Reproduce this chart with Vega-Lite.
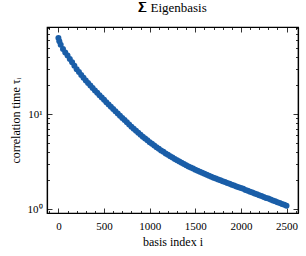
{
  "$schema": "https://vega.github.io/schema/vega-lite/v6.json",
  "width": 251,
  "height": 186,
  "autosize": "none",
  "padding": {"left": 47, "top": 27, "right": 8, "bottom": 43},
  "background": "white",
  "title": {"text": "𝚺 Eigenbasis", "font": "Liberation Serif", "fontSize": 13, "fontWeight": "normal", "color": "black", "offset": 7},
  "config": {
    "view": {"stroke": "black", "strokeWidth": 1.2},
    "axis": {"labelFont": "Liberation Serif", "titleFont": "Liberation Serif", "labelColor": "black", "titleColor": "black", "domainColor": "black", "tickColor": "black", "grid": false, "titleFontWeight": "normal", "labelFontSize": 11, "titleFontSize": 12, "domainWidth": 1.2, "tickWidth": 0.8}
  },
  "data": {"values": [
    {"i": 0, "tau": 63.1}, {"i": 10, "tau": 58.2}, {"i": 25, "tau": 53.7}, {"i": 50, "tau": 48.4}, {"i": 75, "tau": 44.5},
    {"i": 100, "tau": 41.2}, {"i": 125, "tau": 37.9}, {"i": 150, "tau": 35.0}, {"i": 175, "tau": 32.2},
    {"i": 200, "tau": 29.6}, {"i": 225, "tau": 27.7}, {"i": 250, "tau": 25.8}, {"i": 275, "tau": 24.1},
    {"i": 300, "tau": 22.5}, {"i": 325, "tau": 21.2}, {"i": 350, "tau": 19.9}, {"i": 375, "tau": 18.8},
    {"i": 400, "tau": 17.7}, {"i": 425, "tau": 16.7}, {"i": 450, "tau": 15.8}, {"i": 475, "tau": 14.9},
    {"i": 500, "tau": 14.1}, {"i": 525, "tau": 13.3}, {"i": 550, "tau": 12.6}, {"i": 575, "tau": 11.9},
    {"i": 600, "tau": 11.3}, {"i": 625, "tau": 10.7}, {"i": 650, "tau": 10.1}, {"i": 675, "tau": 9.6},
    {"i": 700, "tau": 9.1}, {"i": 725, "tau": 8.63}, {"i": 750, "tau": 8.18}, {"i": 775, "tau": 7.76},
    {"i": 800, "tau": 7.36}, {"i": 825, "tau": 7.01}, {"i": 850, "tau": 6.67}, {"i": 875, "tau": 6.35},
    {"i": 900, "tau": 6.04}, {"i": 925, "tau": 5.78}, {"i": 950, "tau": 5.52}, {"i": 975, "tau": 5.28},
    {"i": 1000, "tau": 5.05}, {"i": 1025, "tau": 4.85}, {"i": 1050, "tau": 4.66}, {"i": 1075, "tau": 4.47},
    {"i": 1100, "tau": 4.3}, {"i": 1125, "tau": 4.14}, {"i": 1150, "tau": 4.0}, {"i": 1175, "tau": 3.85},
    {"i": 1200, "tau": 3.72}, {"i": 1225, "tau": 3.6}, {"i": 1250, "tau": 3.48}, {"i": 1275, "tau": 3.37},
    {"i": 1300, "tau": 3.26}, {"i": 1325, "tau": 3.16}, {"i": 1350, "tau": 3.07}, {"i": 1375, "tau": 2.98},
    {"i": 1400, "tau": 2.89}, {"i": 1425, "tau": 2.81}, {"i": 1450, "tau": 2.74}, {"i": 1475, "tau": 2.67},
    {"i": 1500, "tau": 2.59}, {"i": 1525, "tau": 2.53}, {"i": 1550, "tau": 2.47}, {"i": 1575, "tau": 2.41},
    {"i": 1600, "tau": 2.35}, {"i": 1625, "tau": 2.3}, {"i": 1650, "tau": 2.24}, {"i": 1675, "tau": 2.19},
    {"i": 1700, "tau": 2.14}, {"i": 1725, "tau": 2.1}, {"i": 1750, "tau": 2.05}, {"i": 1775, "tau": 2.01},
    {"i": 1800, "tau": 1.96}, {"i": 1825, "tau": 1.92}, {"i": 1850, "tau": 1.88}, {"i": 1875, "tau": 1.84},
    {"i": 1900, "tau": 1.8}, {"i": 1925, "tau": 1.77}, {"i": 1950, "tau": 1.73}, {"i": 1975, "tau": 1.69},
    {"i": 2000, "tau": 1.66}, {"i": 2025, "tau": 1.63}, {"i": 2050, "tau": 1.59}, {"i": 2075, "tau": 1.56},
    {"i": 2100, "tau": 1.52}, {"i": 2125, "tau": 1.49}, {"i": 2150, "tau": 1.46}, {"i": 2175, "tau": 1.43},
    {"i": 2200, "tau": 1.4}, {"i": 2225, "tau": 1.37}, {"i": 2250, "tau": 1.34}, {"i": 2275, "tau": 1.31},
    {"i": 2300, "tau": 1.29}, {"i": 2325, "tau": 1.26}, {"i": 2350, "tau": 1.23}, {"i": 2375, "tau": 1.21},
    {"i": 2400, "tau": 1.18}, {"i": 2425, "tau": 1.16}, {"i": 2450, "tau": 1.13}, {"i": 2475, "tau": 1.11},
    {"i": 2499, "tau": 1.08}
  ]},
  "layer": [
    {
      "mark": {"type": "point", "filled": true, "shape": "circle", "size": 36, "color": "#1a5ea8", "opacity": 1},
      "encoding": {
        "x": {"field": "i", "type": "quantitative", "scale": {"domain": [-125, 2625], "nice": false, "zero": false},
          "axis": {"title": "basis index i", "orient": "bottom", "format": "d",
            "values": [-100, 0, 100, 200, 300, 400, 500, 600, 700, 800, 900, 1000, 1100, 1200, 1300, 1400, 1500, 1600, 1700, 1800, 1900, 2000, 2100, 2200, 2300, 2400, 2500, 2600],
            "labelExpr": "datum.value % 500 === 0 ? datum.label : ''",
            "tickSize": {"condition": {"test": "datum.value % 500 === 0", "value": -5}, "value": -2.5},
            "labelPadding": 12, "labelOverlap": false, "titlePadding": 3}},
        "y": {"field": "tau", "type": "quantitative", "scale": {"type": "log", "domain": [0.908, 82.4], "nice": false},
          "axis": {"title": "correlation time τᵢ", "orient": "left",
            "values": [1, 2, 3, 4, 5, 6, 7, 8, 9, 10, 20, 30, 40, 50, 60, 70, 80],
            "labelExpr": "datum.value === 1 ? '10⁰' : datum.value === 10 ? '10¹' : ''",
            "tickSize": {"condition": {"test": "datum.value === 1 || datum.value === 10", "value": -5}, "value": -2.5},
            "labelPadding": 10, "labelOverlap": false, "titlePadding": 5}}
      }
    },
    {
      "mark": {"type": "point", "opacity": 0},
      "encoding": {
        "x": {"field": "i", "type": "quantitative", "scale": {"domain": [-125, 2625], "nice": false, "zero": false},
          "axis": {"title": null, "orient": "top", "labels": false,
            "values": [-100, 0, 100, 200, 300, 400, 500, 600, 700, 800, 900, 1000, 1100, 1200, 1300, 1400, 1500, 1600, 1700, 1800, 1900, 2000, 2100, 2200, 2300, 2400, 2500, 2600],
            "tickSize": {"condition": {"test": "datum.value % 500 === 0", "value": -5}, "value": -2.5}}},
        "y": {"field": "tau", "type": "quantitative", "scale": {"type": "log", "domain": [0.908, 82.4], "nice": false},
          "axis": {"title": null, "orient": "right", "labels": false,
            "values": [1, 2, 3, 4, 5, 6, 7, 8, 9, 10, 20, 30, 40, 50, 60, 70, 80],
            "tickSize": {"condition": {"test": "datum.value === 1 || datum.value === 10", "value": -5}, "value": -2.5}}}
      }
    }
  ],
  "resolve": {"scale": {"x": "independent", "y": "independent"}}
}
